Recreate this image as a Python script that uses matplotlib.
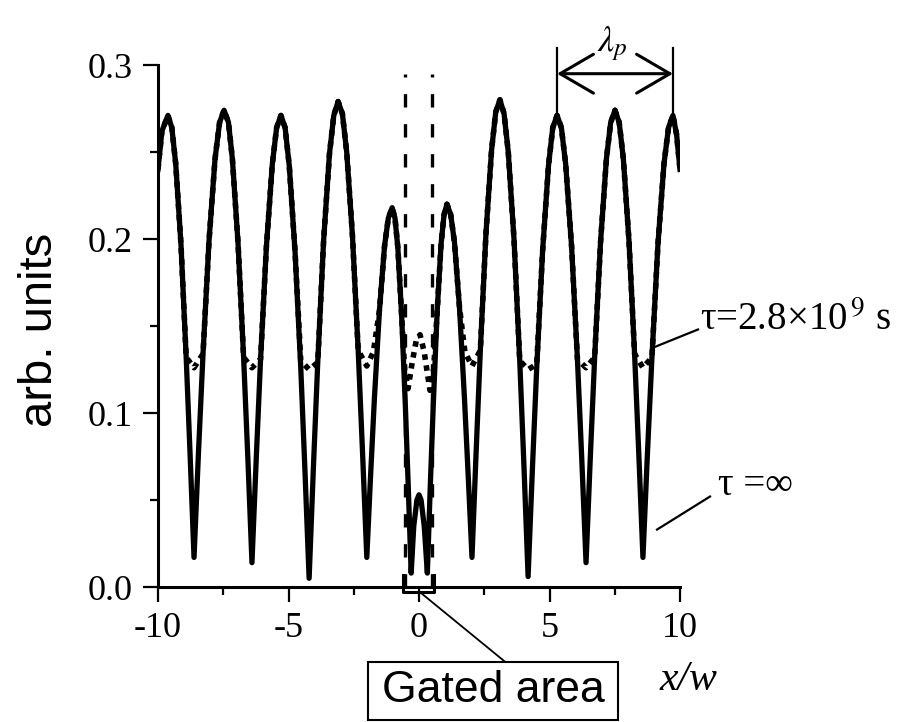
import matplotlib
matplotlib.use("Agg")
import matplotlib.pyplot as plt
from matplotlib.patches import Rectangle

# tau = infinity (solid curve)
tau_inf_x = [-10.0, -9.85, -9.62, -9.47, -9.32, -9.12, -8.92, -8.77, -8.62,
             -8.45, -8.275, -8.045, -7.815, -7.64, -7.47, -7.30, -7.15, -6.935, -6.72, -6.56, -6.40,
             -6.235, -6.07, -5.845, -5.62, -5.455, -5.29, -5.13, -4.97, -4.75, -4.53, -4.37, -4.21,
             -4.045, -3.88, -3.655, -3.43, -3.265, -3.10, -2.935, -2.77, -2.55, -2.33, -2.165, -2.00,
             -1.855, -1.71, -1.515, -1.32, -1.175, -1.03, -0.92, -0.81, -0.665, -0.52, -0.41, -0.30,
             -0.20, -0.08, 0.0, 0.08, 0.20, 0.32,
             0.43, 0.545, 0.695, 0.845, 0.96, 1.07, 1.215, 1.36, 1.55, 1.74, 1.885, 2.03,
             2.19, 2.35, 2.565, 2.78, 2.94, 3.10, 3.26, 3.42, 3.64, 3.86, 4.02, 4.18,
             4.345, 4.51, 4.735, 4.96, 5.125, 5.29, 5.455, 5.62, 5.845, 6.07, 6.235, 6.40,
             6.565, 6.73, 6.955, 7.18, 7.345, 7.51, 7.67, 7.83, 8.045, 8.26, 8.42, 8.58,
             8.75, 8.925, 9.155, 9.385, 9.56, 9.73, 9.87, 10.0]
tau_inf_y = [0.240, 0.262, 0.271, 0.264, 0.243, 0.197, 0.132, 0.076, 0.017,
             0.077, 0.134, 0.199, 0.246, 0.267, 0.274, 0.267, 0.246, 0.198, 0.132, 0.075, 0.014,
             0.074, 0.131, 0.196, 0.243, 0.264, 0.271, 0.264, 0.242, 0.193, 0.126, 0.067, 0.005,
             0.069, 0.129, 0.199, 0.249, 0.271, 0.279, 0.272, 0.250, 0.202, 0.136, 0.078, 0.017,
             0.064, 0.108, 0.159, 0.196, 0.212, 0.218, 0.212, 0.195, 0.156, 0.103, 0.057, 0.008,
             0.035, 0.050, 0.053, 0.050, 0.035, 0.008,
             0.057, 0.104, 0.158, 0.197, 0.214, 0.220, 0.214, 0.198, 0.161, 0.109, 0.064, 0.017,
             0.078, 0.136, 0.203, 0.251, 0.273, 0.280, 0.272, 0.250, 0.200, 0.130, 0.070, 0.006,
             0.068, 0.126, 0.193, 0.242, 0.264, 0.271, 0.264, 0.243, 0.196, 0.131, 0.074, 0.014,
             0.075, 0.132, 0.198, 0.246, 0.267, 0.274, 0.267, 0.246, 0.199, 0.134, 0.077, 0.017,
             0.076, 0.132, 0.197, 0.243, 0.264, 0.271, 0.260, 0.240]

# tau = 2.8e9 s (dotted curve)
tau_fin_x = [-10.0, -9.85, -9.62, -9.47, -9.32, -9.12, -8.92, -8.62,
             -8.275, -8.045, -7.815, -7.64, -7.47, -7.30, -7.15, -6.935, -6.72, -6.40,
             -6.07, -5.845, -5.62, -5.455, -5.29, -5.13, -4.97, -4.75, -4.53, -4.21,
             -3.88, -3.655, -3.43, -3.265, -3.10, -2.935, -2.77, -2.55, -2.33, -2.00,
             -1.75, -1.515, -1.32, -1.175, -1.03, -0.92, -0.81, -0.665, -0.55, -0.42,
             -0.25, -0.10, 0.04, 0.20, 0.42, 0.56,
             0.695, 0.845, 0.96, 1.07, 1.215, 1.36, 1.55, 1.76, 2.03,
             2.35, 2.565, 2.78, 2.94, 3.10, 3.26, 3.42, 3.64, 3.86, 4.18,
             4.51, 4.735, 4.96, 5.125, 5.29, 5.455, 5.62, 5.845, 6.07, 6.40,
             6.73, 6.955, 7.18, 7.345, 7.51, 7.67, 7.83, 8.045, 8.26, 8.58,
             8.925, 9.155, 9.385, 9.56, 9.73, 9.87, 10.0]
tau_fin_y = [0.240, 0.262, 0.271, 0.264, 0.243, 0.197, 0.132, 0.126,
             0.134, 0.199, 0.246, 0.267, 0.274, 0.267, 0.246, 0.198, 0.132, 0.126,
             0.131, 0.196, 0.243, 0.264, 0.271, 0.264, 0.242, 0.193, 0.130, 0.125,
             0.129, 0.199, 0.249, 0.271, 0.279, 0.272, 0.250, 0.202, 0.136, 0.127,
             0.135, 0.159, 0.196, 0.212, 0.218, 0.212, 0.195, 0.156, 0.125, 0.114,
             0.130, 0.142, 0.145, 0.135, 0.113, 0.125,
             0.158, 0.197, 0.214, 0.220, 0.214, 0.198, 0.161, 0.135, 0.127,
             0.136, 0.203, 0.251, 0.273, 0.280, 0.272, 0.250, 0.200, 0.130, 0.125,
             0.128, 0.193, 0.242, 0.264, 0.271, 0.264, 0.243, 0.196, 0.131, 0.126,
             0.132, 0.198, 0.246, 0.267, 0.274, 0.267, 0.246, 0.199, 0.134, 0.126,
             0.132, 0.197, 0.243, 0.264, 0.271, 0.260, 0.240]

gate_edges = [-0.55, 0.5]
lambda_ends = [5.29, 9.73]

x_ticks = [-10, -5, 0, 5, 10]
y_ticks = [0.0, 0.1, 0.2, 0.3]
y_ticklabels = ["0.0", "0.1", "0.2", "0.3"]

serif = ["Liberation Serif", "DejaVu Serif"]
plt.rcParams["mathtext.fontset"] = "stix"

fig = plt.figure(figsize=(9.23, 7.22), dpi=100)
ax = fig.add_axes([158 / 923, 1 - 587 / 722, (680 - 158) / 923, (587 - 65) / 722])

ax.plot(tau_inf_x, tau_inf_y, color="black", lw=3.8, solid_joinstyle="round")
ax.plot(tau_fin_x, tau_fin_y, color="black", lw=4.0, linestyle=(0, (1, 1.0)))

# gated area
for g in gate_edges:
    ax.plot([g, g], [0.0, 0.295], color="black", lw=2.4, dashes=(4.0, 5.0))
ax.plot([-0.62, -0.62, 0.57, 0.57], [0.007, -0.003, -0.003, 0.007], color="black", lw=2.2, clip_on=False)
ax.plot([0.04, 3.3], [-0.003, -0.043], color="black", lw=1.3, clip_on=False)

# lambda_p marker
for lx in lambda_ends:
    ax.plot([lx, lx], [0.273, 0.310], color="black", lw=1.6, clip_on=False)
ax.annotate("", xy=(lambda_ends[0], 0.295), xytext=(lambda_ends[1], 0.295),
            arrowprops=dict(arrowstyle="<->,head_length=1.2,head_width=0.7", lw=2.2,
                            color="black", shrinkA=0, shrinkB=0, mutation_scale=20),
            annotation_clip=False)
ax.text(7.43, 0.3125, r"$\lambda_p$", fontsize=26, ha="center", va="center")

# curve labels
ax.plot([9.04, 10.69], [0.138, 0.148], color="black", lw=1.6, clip_on=False)
ax.text(10.75, 0.148, "τ=2.8×10$^{\\,9}$ s", family=serif, fontsize=28, ha="left", va="baseline")
ax.plot([9.12, 11.15], [0.033, 0.052], color="black", lw=1.6, clip_on=False)
ax.text(11.46, 0.053, "τ =∞", family=serif, fontsize=28, ha="left", va="baseline")

ax.set_xlim(-10, 10)
ax.set_ylim(0, 0.3)
for s in ["top", "right"]:
    ax.spines[s].set_visible(False)
for s in ["left", "bottom"]:
    ax.spines[s].set_linewidth(2.2)

ax.set_xticks(x_ticks)
ax.set_xticklabels([str(t) for t in x_ticks])
ax.set_yticks(y_ticks)
ax.set_yticklabels(y_ticklabels)
ax.set_xticks([-7.5, -2.5, 2.5, 7.5], minor=True)
ax.set_yticks([0.05, 0.15, 0.25], minor=True)
ax.tick_params(which="major", direction="out", length=11, width=1.6, pad=7, labelsize=26)
ax.tick_params(which="minor", direction="out", length=6, width=1.6)
for lab in ax.get_xticklabels() + ax.get_yticklabels():
    lab.set_family(serif)

fig.text(40 / 923, 1 - 330 / 722, "arb. units", rotation=90, fontsize=34,
         family=["Liberation Sans", "DejaVu Sans"], ha="center", va="center")
fig.text(688 / 923, 1 - 680 / 722, "x/w", fontsize=30, family=serif, style="italic",
         ha="center", va="center")

fig.patches.append(Rectangle((368 / 923, 2 / 722), 250 / 923, 58 / 722, transform=fig.transFigure,
                             fill=False, lw=1.5, edgecolor="black"))
fig.text(493 / 923, 1 - 702 / 722, "Gated area", fontsize=32,
         family=["Liberation Sans", "DejaVu Sans"], ha="center", va="baseline")

fig.savefig("out.png", dpi=100)
